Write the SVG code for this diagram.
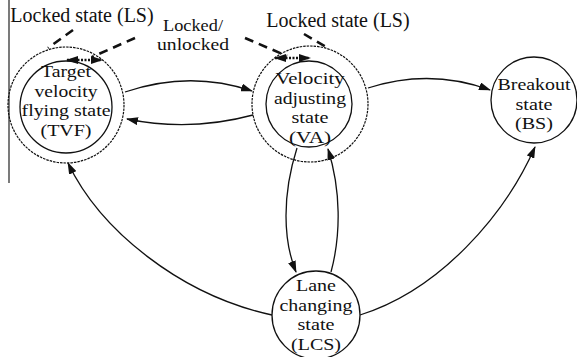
<svg xmlns="http://www.w3.org/2000/svg" width="577" height="357" viewBox="0 0 577 357">
<style>
text{font-family:"Liberation Serif","Times New Roman",serif;font-size:20px;fill:#111;text-anchor:middle}
.n{font-size:17.5px}
.outer{fill:none;stroke:#111;stroke-width:1.2;stroke-dasharray:2.5 1}
.inner{fill:none;stroke:#111;stroke-width:1.3}
.edge{fill:none;stroke:#111;stroke-width:1.3}
.dash{fill:none;stroke:#111;stroke-width:2.6;stroke-dasharray:9 6}
.dot{fill:none;stroke:#111;stroke-width:2.4;stroke-dasharray:2 1.5}
</style>
<defs>
<marker id="ah" markerWidth="12" markerHeight="8" refX="11" refY="4" orient="auto" markerUnits="userSpaceOnUse">
<path d="M0,0 L12,4 L0,8 Z" fill="#111"/>
</marker>
<marker id="ahs" markerWidth="12" markerHeight="8" refX="1" refY="4" orient="auto" markerUnits="userSpaceOnUse">
<path d="M12,0 L0,4 L12,8 Z" fill="#111"/>
</marker>
</defs>
<rect width="577" height="357" fill="#fff"/>
<line x1="9" y1="0" x2="9" y2="183" stroke="#333" stroke-width="1.3"/>
<g id="tvf">
<circle class="outer" cx="66" cy="105" r="58"/>
<circle class="inner" cx="66" cy="107" r="46"/>
<text class="n" x="66" y="77" textLength="50" lengthAdjust="spacingAndGlyphs">Target</text>
<text class="n" x="66" y="96.5" textLength="63" lengthAdjust="spacingAndGlyphs">velocity</text>
<text class="n" x="66" y="116" textLength="89" lengthAdjust="spacingAndGlyphs">flying state</text>
<text class="n" x="66" y="135.5" textLength="51" lengthAdjust="spacingAndGlyphs">(TVF)</text>
</g>
<g id="va">
<circle class="outer" cx="310" cy="104" r="58"/>
<circle class="inner" cx="309" cy="104" r="43"/>
<text class="n" x="310" y="84" textLength="69" lengthAdjust="spacingAndGlyphs">Velocity</text>
<text class="n" x="310" y="103.5" textLength="72" lengthAdjust="spacingAndGlyphs">adjusting</text>
<text class="n" x="310" y="123" textLength="37" lengthAdjust="spacingAndGlyphs">state</text>
<text class="n" x="310" y="142.5" textLength="42" lengthAdjust="spacingAndGlyphs">(VA)</text>
</g>
<g id="bs">
<circle class="inner" cx="534" cy="100" r="43"/>
<text class="n" x="534" y="90" textLength="73" lengthAdjust="spacingAndGlyphs">Breakout</text>
<text class="n" x="534" y="109.5" textLength="37" lengthAdjust="spacingAndGlyphs">state</text>
<text class="n" x="534" y="129" textLength="38" lengthAdjust="spacingAndGlyphs">(BS)</text>
</g>
<g id="lcs">
<ellipse class="inner" cx="316" cy="315" rx="44" ry="44"/>
<text class="n" x="316" y="291" textLength="40" lengthAdjust="spacingAndGlyphs">Lane</text>
<text class="n" x="316" y="310.5" textLength="73" lengthAdjust="spacingAndGlyphs">changing</text>
<text class="n" x="316" y="330" textLength="37" lengthAdjust="spacingAndGlyphs">state</text>
<text class="n" x="316" y="349.5" textLength="50" lengthAdjust="spacingAndGlyphs">(LCS)</text>
</g>
<g id="labels">
<text x="82" y="22">Locked state (LS)</text>
<text class="n" x="193" y="30.5" textLength="60" lengthAdjust="spacingAndGlyphs">Locked/</text>
<text class="n" x="193" y="50" textLength="72" lengthAdjust="spacingAndGlyphs">unlocked</text>
<text x="338" y="27">Locked state (LS)</text>
</g>
<g id="connectors">
<path class="edge" d="M125,92 Q190,70 252,91" marker-end="url(#ah)"/>
<path class="edge" d="M253,115 Q190,132 127,119" marker-end="url(#ah)"/>
<path class="edge" d="M368,88 Q430,68 490,90" marker-end="url(#ah)"/>
<path class="edge" d="M272,315 C180,295 100,230 68,163" marker-end="url(#ah)"/>
<path class="edge" d="M360,315 C440,290 505,215 535,147" marker-end="url(#ah)"/>
<path class="edge" d="M297,148 C282,195 283,240 296,272" marker-end="url(#ah)"/>
<path class="edge" d="M331,272 C341,235 341,190 328,149" marker-end="url(#ah)"/>
<line class="dash" x1="73" y1="30" x2="48" y2="48"/>
<line class="dash" x1="135" y1="38" x2="92" y2="57"/>
<line class="dash" x1="245" y1="38" x2="287" y2="56"/>
<line class="dash" x1="304" y1="34" x2="328" y2="48"/>
<path class="dot" d="M67,60 L102,60" marker-start="url(#ahs)" marker-end="url(#ah)"/>
<path class="dot" d="M275,58 L310,58" marker-start="url(#ahs)" marker-end="url(#ah)"/>
</g>
</svg>
